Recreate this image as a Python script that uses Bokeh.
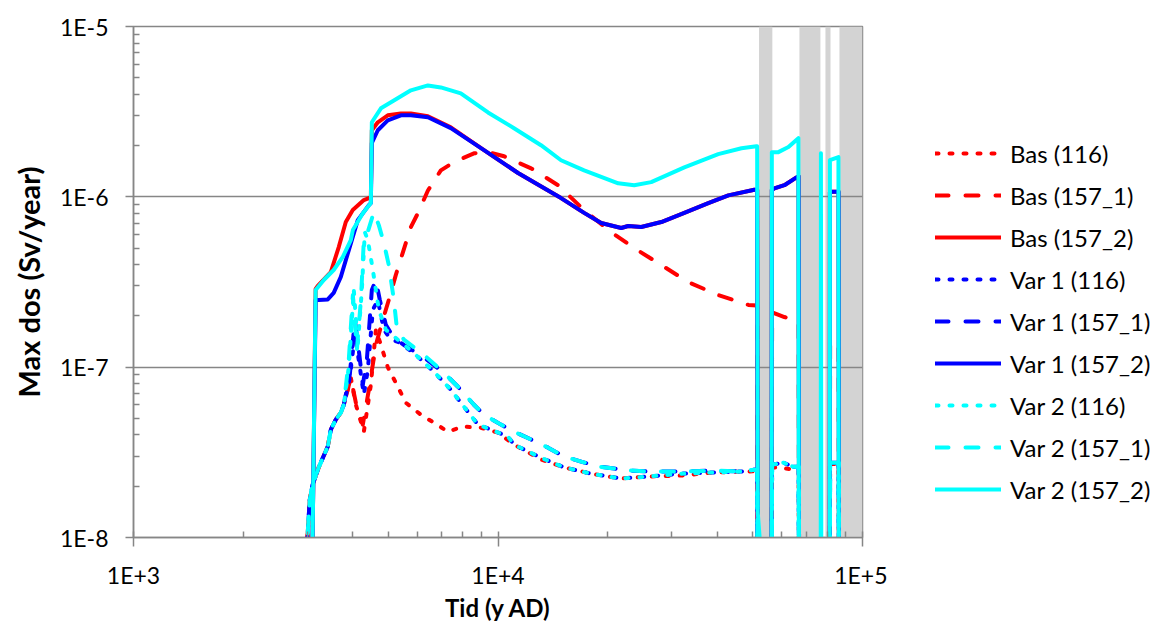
from bokeh.plotting import figure
from bokeh.layouts import row
from bokeh.models import Range1d, FixedTicker, CustomJSTickFormatter, Legend, LegendItem
from bokeh.embed import file_html
from bokeh.resources import INLINE

# ---------------- data ----------------
# time in years AD, dose in Sv/year
bas_116_x = [3000, 3045, 3103, 3222, 3412, 3478, 3589, 3705, 3776, 3946, 4074, 4285, 4479, 4624, 4773,
             4984, 5312, 5586, 6143, 6670, 7290, 8010, 8970, 10000, 11066, 13120, 15180, 18010, 21770,
             25830, 31850, 39200, 48630, 51400, 51600, 56300, 56500, 58770, 64590, 66800, 67000,
             81300, 81500, 86000, 86200]
bas_116_y = [1.0e-8, 1.67e-8, 2.05e-8, 2.58e-8, 3.42e-8, 4.30e-8, 4.92e-8, 5.41e-8, 6.02e-8, 8.67e-8,
             6.02e-8, 4.18e-8, 7.88e-8, 1.66e-7, 1.35e-7, 1.0e-7, 7.67e-8, 6.18e-8, 5.26e-8, 4.72e-8,
             4.18e-8, 4.48e-8, 4.41e-8, 4.13e-8, 3.51e-8, 2.87e-8, 2.58e-8, 2.37e-8, 2.22e-8, 2.28e-8,
             2.31e-8, 2.41e-8, 2.44e-8, 2.45e-8, 3e-9, 3e-9, 2.58e-8, 2.58e-8, 2.50e-8, 2.50e-8, 3e-9,
             3e-9, 2.70e-8, 2.70e-8, 3e-9]

bas_157_1_x = [3000, 3045, 3103, 3222, 3412, 3478, 3589, 3705, 3776, 3946, 4100, 4257, 4423, 4624, 4831,
               5016, 5245, 5586, 5768, 6030, 6423, 6969, 7570, 8590, 9387, 10390, 12330, 14620, 17230,
               20430, 23640, 28060, 33260, 40200, 48630, 51400, 51600, 56300, 56500, 61050, 66800,
               67000, 81300, 81500, 86000, 86200]
bas_157_1_y = [1.0e-8, 1.67e-8, 2.05e-8, 2.58e-8, 3.42e-8, 4.30e-8, 4.92e-8, 5.41e-8, 6.02e-8, 8.67e-8,
               5.78e-8, 4.60e-8, 7.37e-8, 1.35e-7, 1.90e-7, 2.48e-7, 3.48e-7, 5.36e-7, 6.65e-7, 8.02e-7,
               1.09e-6, 1.43e-6, 1.60e-6, 1.80e-6, 1.83e-6, 1.73e-6, 1.47e-6, 1.17e-6, 8.36e-7, 6.21e-7,
               5.0e-7, 3.98e-7, 3.16e-7, 2.65e-7, 2.32e-7, 2.30e-7, 3e-9, 3e-9, 2.10e-7, 1.97e-7, 1.85e-7,
               3e-9, 3e-9, 1.42e-7, 1.35e-7, 3e-9]

bas_157_2_x = [3100, 3160, 3203, 3478, 3657, 3823, 3995, 4285, 4423, 4479, 4507, 4680, 4984, 5416, 5768,
               6423, 7424, 9153, 11350, 14890, 17230, 19190, 21780, 22760, 24720, 28060, 32450, 37750,
               42850, 50500, 51400, 51600, 56300, 56400, 57300, 61050, 65900, 66800, 67000, 81300,
               81400, 86000, 86200]
bas_157_2_y = [1.0e-8, 2.88e-7, 3.0e-7, 3.62e-7, 5.07e-7, 7.11e-7, 8.36e-7, 9.57e-7, 9.83e-7, 1.0e-6,
               2.46e-6, 2.74e-6, 3.01e-6, 3.09e-6, 3.09e-6, 2.97e-6, 2.56e-6, 1.88e-6, 1.38e-6, 9.83e-7,
               8.05e-7, 7.02e-7, 6.56e-7, 6.74e-7, 6.65e-7, 7.11e-7, 8.05e-7, 9.19e-7, 1.02e-6, 1.10e-6,
               1.10e-6, 5e-9, 5e-9, 1.10e-6, 1.12e-6, 1.17e-6, 1.30e-6, 1.32e-6, 5e-9, 5e-9, 1.07e-6,
               1.07e-6, 5e-9]

var1_116_x = [3000, 3045, 3103, 3222, 3412, 3478, 3589, 3705, 3776, 3921, 4048, 4150, 4285, 4394, 4536,
              4680, 4863, 5083, 5312, 5877, 6670, 7424, 8066, 8811, 9568, 10650, 11066, 13120, 15180,
              18010, 21770, 25830, 31850, 39200, 46560, 50500, 51400, 51600, 56300, 56500, 60670,
              64590, 66800, 67000, 81300, 81500, 86000, 86200]
var1_116_y = [1.0e-8, 1.67e-8, 2.05e-8, 2.58e-8, 3.42e-8, 4.30e-8, 4.92e-8, 5.41e-8, 6.02e-8, 8.67e-8,
              1.55e-7, 1.10e-7, 6.89e-8, 9.66e-8, 2.17e-7, 2.48e-7, 1.66e-7, 1.45e-7, 1.41e-7, 1.21e-7,
              9.40e-8, 7.37e-8, 5.86e-8, 4.60e-8, 4.30e-8, 3.91e-8, 3.51e-8, 2.94e-8, 2.58e-8, 2.37e-8,
              2.22e-8, 2.28e-8, 2.37e-8, 2.41e-8, 2.44e-8, 2.50e-8, 2.50e-8, 3e-9, 3e-9, 2.68e-8,
              2.75e-8, 2.60e-8, 2.60e-8, 3e-9, 3e-9, 2.75e-8, 2.75e-8, 3e-9]

var1_157_1_x = [3000, 3045, 3103, 3222, 3412, 3478, 3589, 3705, 3776, 3921, 4048, 4150, 4257, 4367,
                4507, 4624, 4740, 4925, 5180, 5518, 6262, 7106, 7765, 8590, 9153, 10190, 11066, 12330,
                13720, 15180, 16900, 18830, 20830, 23200, 25830, 31850, 39200, 46560, 50500, 51400,
                51600, 56300, 56500, 60670, 64590, 66800, 67000, 81300, 81500, 86000, 86200]
var1_157_1_y = [1.0e-8, 1.67e-8, 2.05e-8, 2.58e-8, 3.42e-8, 4.30e-8, 4.92e-8, 5.41e-8, 6.02e-8, 9.03e-8,
                1.90e-7, 1.26e-7, 7.88e-8, 1.10e-7, 2.84e-7, 3.25e-7, 2.48e-7, 1.77e-7, 1.49e-7, 1.35e-7,
                1.14e-7, 9.27e-8, 7.67e-8, 6.02e-8, 5.26e-8, 4.60e-8, 4.18e-8, 3.76e-8, 3.37e-8, 2.99e-8,
                2.79e-8, 2.61e-8, 2.54e-8, 2.47e-8, 2.44e-8, 2.44e-8, 2.47e-8, 2.44e-8, 2.50e-8, 2.50e-8,
                3e-9, 3e-9, 2.68e-8, 2.75e-8, 2.60e-8, 2.60e-8, 3e-9, 3e-9, 2.75e-8, 2.75e-8, 3e-9]

var1_157_2_x = [3100, 3160, 3222, 3412, 3542, 3705, 3897, 4124, 4423, 4479, 4507, 4680, 4984, 5416, 5768,
                6423, 7424, 9153, 11350, 14890, 17230, 19190, 21780, 22760, 24720, 28060, 32450, 37750,
                42850, 50500, 51400, 51600, 56300, 56400, 57300, 61050, 65900, 66800, 67000, 81300,
                81400, 86000, 86200]
var1_157_2_y = [1.0e-8, 2.48e-7, 2.48e-7, 2.50e-7, 2.73e-7, 3.39e-7, 4.87e-7, 7.30e-7, 8.94e-7, 9.19e-7,
                2.07e-6, 2.46e-6, 2.81e-6, 3.01e-6, 3.01e-6, 2.93e-6, 2.53e-6, 1.88e-6, 1.38e-6, 9.83e-7,
                8.05e-7, 7.02e-7, 6.56e-7, 6.74e-7, 6.65e-7, 7.11e-7, 8.05e-7, 9.19e-7, 1.02e-6, 1.10e-6,
                1.10e-6, 5e-9, 5e-9, 1.10e-6, 1.12e-6, 1.17e-6, 1.30e-6, 1.32e-6, 5e-9, 5e-9, 1.07e-6,
                1.07e-6, 5e-9]

var2_116_x = [3000, 3045, 3103, 3222, 3412, 3478, 3589, 3705, 3776, 3896, 4022, 4124, 4231, 4312, 4394,
              4536, 4710, 4925, 5312, 5877, 6670, 7424, 8066, 8811, 9568, 10650, 11066, 13120, 15180,
              18010, 21770, 25830, 31850, 39200, 46560, 50500, 51400, 51600, 56300, 56500, 60670,
              64590, 66800, 67000, 81300, 81500, 86000, 86200]
var2_116_y = [1.0e-8, 1.67e-8, 2.05e-8, 2.58e-8, 3.42e-8, 4.30e-8, 4.92e-8, 5.41e-8, 6.02e-8, 1.0e-7,
              2.84e-7, 1.35e-7, 2.84e-7, 6.21e-7, 5.57e-7, 3.72e-7, 2.17e-7, 1.66e-7, 1.45e-7, 1.21e-7,
              9.40e-8, 7.37e-8, 5.86e-8, 4.60e-8, 4.30e-8, 3.91e-8, 3.51e-8, 2.94e-8, 2.58e-8, 2.37e-8,
              2.22e-8, 2.28e-8, 2.37e-8, 2.41e-8, 2.44e-8, 2.50e-8, 2.50e-8, 3e-9, 3e-9, 2.68e-8,
              2.75e-8, 2.60e-8, 2.60e-8, 3e-9, 3e-9, 2.75e-8, 2.75e-8, 3e-9]

var2_157_1_x = [3000, 3045, 3103, 3222, 3412, 3478, 3589, 3705, 3776, 3896, 3998, 4100, 4206, 4285,
                4367, 4451, 4564, 4710, 4863, 5016, 5180, 5279, 5518, 6262, 7106, 7765, 8590, 9153,
                10190, 11066, 12330, 13720, 15180, 16900, 18830, 20830, 23200, 25830, 31850, 39200,
                46560, 50500, 51400, 51600, 56300, 56500, 60670, 64590, 66800, 67000, 81300, 81500,
                86000, 86200]
var2_157_1_y = [1.0e-8, 1.67e-8, 2.05e-8, 2.58e-8, 3.42e-8, 4.30e-8, 4.92e-8, 5.41e-8, 6.02e-8, 1.10e-7,
                2.65e-7, 1.26e-7, 2.48e-7, 5.57e-7, 5.97e-7, 6.82e-7, 8.13e-7, 6.82e-7, 5.36e-7, 3.98e-7,
                2.48e-7, 1.70e-7, 1.45e-7, 1.18e-7, 9.27e-8, 7.67e-8, 6.02e-8, 5.26e-8, 4.60e-8, 4.18e-8,
                3.76e-8, 3.37e-8, 2.99e-8, 2.79e-8, 2.61e-8, 2.54e-8, 2.47e-8, 2.44e-8, 2.44e-8, 2.47e-8,
                2.44e-8, 2.50e-8, 2.50e-8, 3e-9, 3e-9, 2.68e-8, 2.75e-8, 2.60e-8, 2.60e-8, 3e-9, 3e-9,
                2.75e-8, 2.75e-8, 3e-9]

var2_157_2_x = [3100, 3160, 3327, 3542, 3752, 3946, 3998, 4257, 4479, 4507, 4773, 5180, 5768, 6423, 6969,
                7906, 9387, 11066, 13120, 14890, 17230, 21370, 23640, 26320, 32450, 40200, 46560, 51170,
                51400, 51600, 53500, 56300, 56400, 58770, 62640, 66700, 66900, 76800, 76900, 77100,
                81300, 81400, 85900, 86100]
var2_157_2_y = [1.0e-8, 2.84e-7, 3.25e-7, 3.72e-7, 4.44e-7, 5.57e-7, 6.38e-7, 8.02e-7, 9.19e-7, 2.74e-6,
                3.31e-6, 3.68e-6, 4.22e-6, 4.51e-6, 4.39e-6, 4.05e-6, 3.13e-6, 2.53e-6, 2.01e-6, 1.64e-6,
                1.43e-6, 1.20e-6, 1.17e-6, 1.22e-6, 1.49e-6, 1.78e-6, 1.93e-6, 1.98e-6, 1.98e-6, 1.4e-8,
                5e-9, 5e-9, 1.83e-6, 1.83e-6, 1.96e-6, 2.21e-6, 5e-9, 5e-9, 1.80e-6, 5e-9, 5e-9, 1.64e-6,
                1.71e-6, 5e-9]

# shaded (grey) time intervals
band_start = [52020, 67140, 79130, 86450]
band_end = [56580, 76650, 81700, 100000]

series_labels = ["Bas (116)", "Bas (157_1)", "Bas (157_2)",
                 "Var 1 (116)", "Var 1 (157_1)", "Var 1 (157_2)",
                 "Var 2 (116)", "Var 2 (157_1)", "Var 2 (157_2)"]
series_x = [bas_116_x, bas_157_1_x, bas_157_2_x, var1_116_x, var1_157_1_x, var1_157_2_x,
            var2_116_x, var2_157_1_x, var2_157_2_x]
series_y = [bas_116_y, bas_157_1_y, bas_157_2_y, var1_116_y, var1_157_1_y, var1_157_2_y,
            var2_116_y, var2_157_1_y, var2_157_2_y]

x_ticks = [1e3, 1e4, 1e5]
y_ticks = [1e-8, 1e-7, 1e-6, 1e-5]

# ---------------- styling ----------------
colors = ["#FF0000"] * 3 + ["#0000FF"] * 3 + ["#00FFFF"] * 3
dashes = ["3 11", "13 17", "solid"] * 3
offsets = [0, 0, 0, 5, 12, 0, 10, 24, 0]
GRAY = "#868686"
FONT = "Lato"

# main chart (frame: x 133..862, y 26..537)
p = figure(width=887, height=624, x_axis_type="log", y_axis_type="log",
           x_range=Range1d(1e3, 1e5), y_range=Range1d(1e-8, 1e-5),
           output_backend="svg", toolbar_location=None,
           min_border_left=133, min_border_right=25, min_border_top=26, min_border_bottom=87,
           background_fill_color="white", border_fill_color="white")

p.quad(left=band_start, right=band_end, bottom=p.y_range.start, top=p.y_range.end,
       fill_color="#D3D3D3", line_color=None, level="image")

for xs, ys, c, d, o in zip(series_x, series_y, colors, dashes, offsets):
    p.line(xs, ys, line_color=c, line_width=4, line_dash=d, line_dash_offset=o,
           line_cap="round", line_join="round")

x_minor = [m * t for t in x_ticks[:-1] for m in range(2, 10)]
y_minor = [m * t for t in y_ticks[:-1] for m in range(2, 10)]
p.xaxis.ticker = FixedTicker(ticks=x_ticks, minor_ticks=x_minor)
p.yaxis.ticker = FixedTicker(ticks=y_ticks, minor_ticks=y_minor)
p.ygrid.ticker = FixedTicker(ticks=y_ticks)
p.xgrid.visible = False
p.ygrid.grid_line_color = GRAY
p.ygrid.grid_line_width = 1.5
p.outline_line_color = GRAY
p.outline_line_width = 1.5

fmt = CustomJSTickFormatter(code="""
const e = Math.round(Math.log10(tick));
return '1E' + (e < 0 ? '-' : '+') + Math.abs(e);
""")
for ax in (p.xaxis[0], p.yaxis[0]):
    ax.formatter = fmt
    ax.axis_line_color = GRAY
    ax.axis_line_width = 1.5
    ax.major_tick_line_color = GRAY
    ax.major_tick_line_width = 1.5
    ax.minor_tick_line_color = GRAY
    ax.minor_tick_line_width = 1.5
    ax.minor_tick_in = 6
    ax.minor_tick_out = 0
    ax.major_label_text_font = FONT
    ax.major_label_text_font_size = "23px"
    ax.major_label_text_color = "black"
    ax.axis_label_text_font = FONT
    ax.axis_label_text_font_style = "bold"
    ax.axis_label_text_color = "black"

p.xaxis.axis_label = "Tid (y AD)"
p.yaxis.axis_label = "Max dos (Sv/year)"
p.xaxis.axis_label_text_font_size = "24px"
p.yaxis.axis_label_text_font_size = "29px"
p.xaxis.major_tick_in = 6
p.xaxis.major_tick_out = 9
p.xaxis.major_label_standoff = 14
p.xaxis.axis_label_standoff = 1
p.yaxis.major_tick_in = 0
p.yaxis.major_tick_out = 8
p.yaxis.major_label_standoff = 17
p.yaxis.axis_label_standoff = 11

# legend panel to the right of the chart; each legend entry uses a one-point
# proxy line (draws nothing) carrying the same style as its series
lp = figure(width=270, height=624, output_backend="svg", toolbar_location=None,
            x_axis_type="log", y_axis_type="log",
            x_range=Range1d(1e3, 1e5), y_range=Range1d(1e-8, 1e-5),
            x_axis_location=None, y_axis_location=None,
            min_border_left=0, min_border_right=0, min_border_top=0, min_border_bottom=0,
            outline_line_color=None, background_fill_color="white", border_fill_color="white")
lp.xgrid.visible = False
lp.ygrid.visible = False
items = []
for lbl, xs, ys, c, d in zip(series_labels, series_x, series_y, colors, dashes):
    r = lp.line(xs[:1], ys[:1], line_color=c, line_width=4, line_dash=d,
                line_cap="round", line_join="round")
    items.append(LegendItem(label=lbl, renderers=[r]))

legend = Legend(items=items, location=(48, 33), orientation="vertical",
                glyph_width=66, glyph_height=30, label_height=30, spacing=12,
                label_standoff=9, padding=0, margin=0,
                border_line_color=None, background_fill_alpha=0,
                label_text_font=FONT, label_text_font_size="24px", label_text_color="black")
lp.add_layout(legend, "center")

layout = row(p, lp, spacing=0)
open("out.html", "w").write(file_html(layout, INLINE))
